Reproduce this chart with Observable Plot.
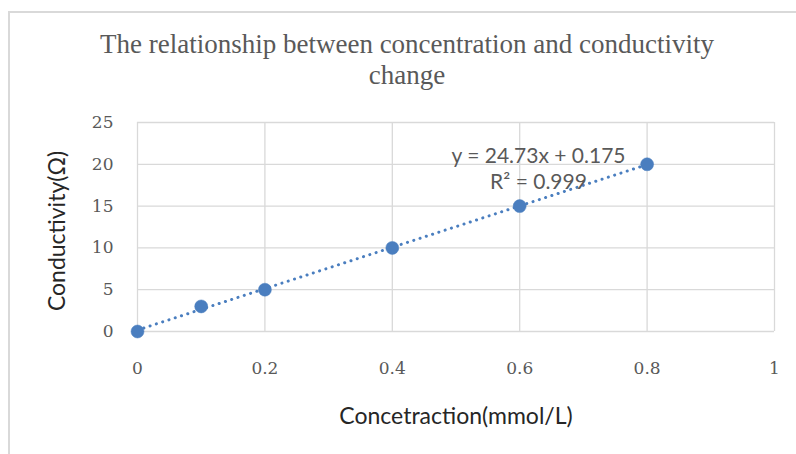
<!DOCTYPE html>
<html>
<head>
<meta charset="utf-8">
<script src="https://cdn.jsdelivr.net/npm/d3@7"></script>
<script src="https://cdn.jsdelivr.net/npm/@observablehq/plot@0.6"></script>
<style>
  html, body { margin: 0; padding: 0; background: #fff; }
  #wrap { position: relative; width: 796px; height: 454px; overflow: hidden; }
  #frame { position: absolute; left: 8px; top: 11px; width: 900px; height: 600px;
           border-top: 2px solid #d9d9d9; border-left: 2px solid #d9d9d9; box-sizing: border-box; }
  #wrap svg { position: absolute; left: 0; top: 0; background: transparent; }
</style>
</head>
<body>
<div id="wrap"><div id="frame"></div></div>
<script>
// Data
const concentration = [0, 0.1, 0.2, 0.4, 0.6, 0.8];
const conductivity  = [0, 3, 5, 10, 15, 20];
const xTicks = [0, 0.2, 0.4, 0.6, 0.8, 1];
const yTicks = [0, 5, 10, 15, 20, 25];
const titleText = "The relationship between concentration and conductivity\nchange";
const xLabel = "Concetraction(mmol/L)";
const yLabel = "Conductivity(Ω)";
const equationLines = ["y = 24.73x + 0.175", "R² = 0.999"];

const data = concentration.map((x, i) => ({x, y: conductivity[i]}));

const blue = "#4a7ebf";
const gray = "#595959";
const grid = "#d9d9d9";

const chart = Plot.plot({
  width: 796,
  height: 454,
  marginLeft: 137,
  marginRight: 22,
  marginTop: 122,
  marginBottom: 123,
  style: {background: "transparent", overflow: "visible"},
  x: {domain: [0, 1]},
  y: {domain: [0, 25]},
  marks: [
    Plot.gridX(xTicks, {stroke: grid, strokeOpacity: 1, strokeWidth: 1.3}),
    Plot.gridY(yTicks, {stroke: grid, strokeOpacity: 1, strokeWidth: 1.3}),
    Plot.axisX(xTicks, {tickSize: 0, tickPadding: 30, fontFamily: "DejaVu Serif", fontSize: 17,
      fill: gray, label: null, tickFormat: d => String(d)}),
    Plot.axisY(yTicks, {tickSize: 0, tickPadding: 24, fontFamily: "DejaVu Serif", fontSize: 17,
      fill: gray, label: null, tickFormat: d => String(d)}),
    Plot.linearRegressionY(data, {x: "x", y: "y", ci: 0, stroke: blue, strokeWidth: 3,
      strokeDasharray: "0.1 6.5", strokeLinecap: "round"}),
    Plot.dot(data, {x: "x", y: "y", r: 6.5, fill: blue, stroke: blue, strokeWidth: 0.5}),
    // title
    Plot.text([titleText], {frameAnchor: "top", dx: -49, dy: -92, lineHeight: 1.15,
      fontFamily: "Liberation Serif", fontSize: 27, fill: gray, lineAnchor: "top"}),
    // trendline equation
    Plot.text([equationLines.join("\n")], {frameAnchor: "top-left", dx: 401, dy: 22, lineHeight: 1.25,
      fontFamily: "Lato", fontSize: 21, fill: gray, textAnchor: "middle", lineAnchor: "top"}),
    // axis titles
    Plot.text([xLabel], {frameAnchor: "bottom", dy: 92, fontFamily: "Lato", fontSize: 23,
      fill: "#262626", lineAnchor: "bottom"}),
    Plot.text([yLabel], {frameAnchor: "left", dx: -80, dy: 4, rotate: -90, fontFamily: "Lato",
      fontSize: 23, fill: "#262626", textAnchor: "middle", lineAnchor: "middle"})
  ]
});

document.getElementById("wrap").appendChild(chart);
</script>
</body>
</html>
